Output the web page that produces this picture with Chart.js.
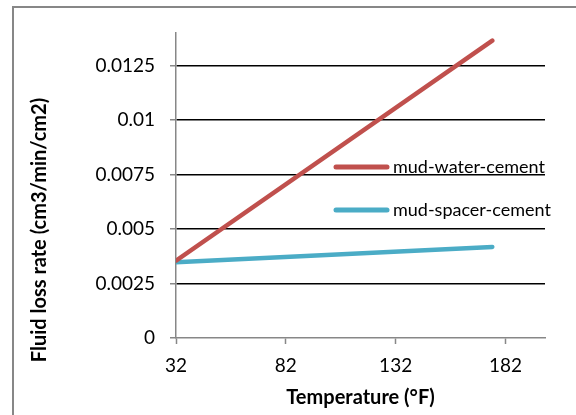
<!DOCTYPE html>
<html>
<head>
<meta charset="utf-8">
<script src="https://cdn.jsdelivr.net/npm/chart.js@4.4.1/dist/chart.umd.min.js"></script>
<style>
  html, body { margin: 0; padding: 0; background: #fff; }
  #wrap { width: 576px; height: 415px; }
</style>
</head>
<body>
<div id="wrap"><canvas id="lossChart" width="576" height="415"></canvas></div>
<script>
// values
const temps = [32, 176];
const mudWater = [0.00355, 0.01365];
const mudSpacer = [0.00348, 0.00418];
const xTicks = [32, 82, 132, 182];
const yTicks = [0, 0.0025, 0.005, 0.0075, 0.01, 0.0125];

const FONT = 'Lato, "Open Sans", sans-serif';
const GRAY = '#878787';

function toPoints(ys) {
  return temps.map((t, i) => ({ x: t, y: ys[i] }));
}

// outer frame (only top and left edges show in the crop)
const framePlugin = {
  id: 'frame',
  afterDraw(chart) {
    const ctx = chart.ctx;
    ctx.save();
    ctx.strokeStyle = GRAY;
    ctx.lineWidth = 2;
    ctx.beginPath();
    ctx.moveTo(13, 420);
    ctx.lineTo(13, 7);
    ctx.lineTo(600, 7);
    ctx.stroke();
    ctx.restore();
  }
};

// y axis title, placed like the original (not centred on plot area)
const yTitlePlugin = {
  id: 'yTitle',
  afterDraw(chart) {
    const ctx = chart.ctx;
    ctx.save();
    ctx.translate(40, 230);
    ctx.rotate(-Math.PI / 2);
    ctx.font = 'bold 20px ' + FONT;
    ctx.fillStyle = '#000';
    ctx.textAlign = 'center';
    ctx.textBaseline = 'middle';
    ctx.fillText('Fluid loss rate (cm3/min/cm2)', 0, 0);
    ctx.restore();
  }
};

// legend sitting inside the plot
const innerLegend = {
  id: 'innerLegend',
  afterDatasetsDraw(chart) {
    const ctx = chart.ctx;
    const rows = [167, 210];
    ctx.save();
    ctx.font = '18px ' + FONT;
    ctx.textBaseline = 'middle';
    ctx.lineCap = 'round';
    chart.data.datasets.forEach((ds, i) => {
      const y = rows[i];
      ctx.strokeStyle = ds.borderColor;
      ctx.lineWidth = 5;
      ctx.beginPath();
      ctx.moveTo(336, y);
      ctx.lineTo(387, y);
      ctx.stroke();
      ctx.fillStyle = '#000';
      ctx.fillText(ds.label, 393, y);
    });
    ctx.restore();
  }
};

new Chart(document.getElementById('lossChart'), {
  type: 'line',
  data: {
    datasets: [
      {
        label: 'mud-water-cement',
        data: toPoints(mudWater),
        borderColor: '#C0504D',
        borderWidth: 4.5,
        borderCapStyle: 'round',
        pointRadius: 0
      },
      {
        label: 'mud-spacer-cement',
        data: toPoints(mudSpacer),
        borderColor: '#4BACC6',
        borderWidth: 4.5,
        borderCapStyle: 'round',
        pointRadius: 0
      }
    ]
  },
  options: {
    responsive: false,
    animation: false,
    layout: { padding: { top: 33, right: 31, left: 0, bottom: 0 } },
    plugins: {
      legend: { display: false },
      tooltip: { enabled: false }
    },
    scales: {
      x: {
        type: 'linear',
        min: 32,
        max: 200,
        afterBuildTicks: scale => { scale.ticks = xTicks.map(v => ({ value: v })); },
        afterFit: scale => { scale.height = 77; },
        grid: { drawOnChartArea: false, tickLength: 6, tickColor: GRAY, tickWidth: 1.5 },
        border: { color: GRAY, width: 1.5 },
        ticks: { color: '#000', font: { family: FONT, size: 19 }, padding: 10, maxRotation: 0 },
        title: {
          display: true,
          text: 'Temperature (°F)',
          color: '#000',
          font: { family: FONT, size: 20, weight: 'bold' },
          padding: { top: 0, bottom: 5 }
        }
      },
      y: {
        min: 0,
        max: 0.014,
        afterBuildTicks: scale => { scale.ticks = yTicks.map(v => ({ value: v })); },
        afterFit: scale => { scale.width = 176; },
        grid: {
          color: ctx => (ctx.tick && ctx.tick.value === 0 ? 'rgba(0,0,0,0)' : '#000'),
          lineWidth: 1.5,
          tickLength: 6,
          tickColor: GRAY,
          tickWidth: 1.5
        },
        border: { color: GRAY, width: 1.5 },
        ticks: {
          color: '#000',
          font: { family: FONT, size: 19 },
          padding: 15,
          callback: v => String(v)
        }
      }
    }
  },
  plugins: [framePlugin, yTitlePlugin, innerLegend]
});
</script>
</body>
</html>
